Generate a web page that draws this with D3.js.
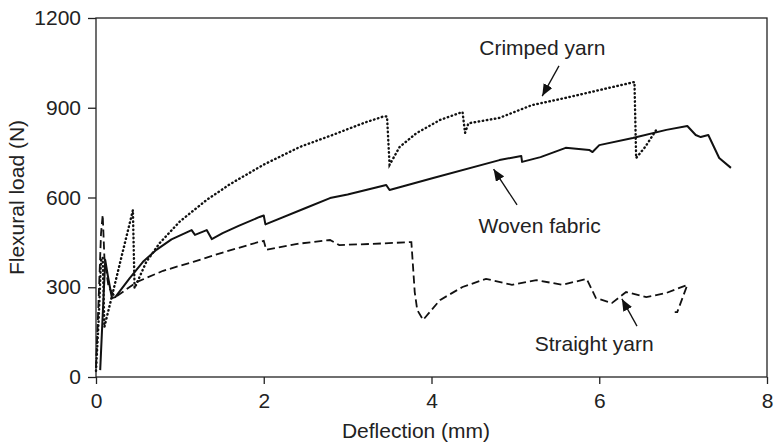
<!DOCTYPE html>
<html>
<head>
<meta charset="utf-8">
<script src="https://cdn.jsdelivr.net/npm/d3@7"></script>
<style>
  body { margin: 0; background: #fff; }
  svg { display: block; font-family: "Liberation Sans", Arial, Helvetica, sans-serif; }
  .axis text { font-size: 21px; fill: #222; }
  .axis line { stroke: #222; stroke-width: 1.3; }
  .lbl { font-size: 21px; fill: #222; }
</style>
</head>
<body>
<div id="chart"></div>
<script>
// --- data (deflection in mm, load in N) ---
const crimpedX = [0, 0.03, 0.06, 0.08, 0.1, 0.44, 0.46, 0.6, 0.76, 1.0, 1.32, 1.6, 2.0, 2.43, 2.82, 3.22, 3.44, 3.47, 3.5, 3.62, 3.82, 4.1, 4.37, 4.4, 4.44, 4.81, 5.2, 5.6, 6.0, 6.42, 6.44, 6.55, 6.68];
const crimpedY = [20, 180, 390, 400, 167, 558, 297, 385, 448, 520, 592, 645, 710, 769, 809, 852, 872, 870, 709, 769, 815, 859, 886, 816, 848, 866, 909, 933, 959, 986, 732, 770, 826];

const wovenX = [0.05, 0.11, 0.14, 0.19, 0.23, 0.4, 0.56, 0.72, 0.9, 1.14, 1.18, 1.32, 1.38, 1.51, 1.7, 1.95, 2.0, 2.02, 2.5, 2.79, 3.0, 3.46, 3.5, 4.02, 4.81, 5.07, 5.08, 5.3, 5.6, 5.88, 5.92, 6.0, 6.4, 6.8, 7.05, 7.15, 7.21, 7.3, 7.43, 7.57];
const wovenY = [23, 391, 340, 264, 267, 330, 385, 425, 460, 491, 475, 491, 461, 481, 505, 535, 540, 510, 565, 598, 610, 642, 625, 665, 725, 739, 719, 735, 766, 759, 752, 775, 799, 826, 839, 809, 802, 809, 732, 699];

const straightX = [0, 0.03, 0.06, 0.08, 0.1, 0.15, 0.23, 0.49, 0.8, 1.16, 1.5, 1.95, 2.0, 2.03, 2.4, 2.79, 2.9, 3.3, 3.76, 3.8, 3.83, 3.9, 4.1, 4.37, 4.65, 4.96, 5.25, 5.56, 5.85, 5.96, 6.15, 6.32, 6.56, 6.8, 7.05, 6.93, 6.9];
const straightY = [30, 250, 480, 542, 400, 300, 267, 318, 355, 385, 415, 452, 455, 425, 445, 458, 441, 445, 451, 284, 224, 191, 257, 301, 328, 308, 324, 308, 328, 264, 247, 284, 267, 281, 308, 217, 217];

const xTicks = [0, 2, 4, 6, 8];
const yTicks = [0, 300, 600, 900, 1200];

// annotation labels + arrows, in data units
const labels = ["Crimped yarn", "Woven fabric", "Straight yarn"];
const labelX = [4.57, 4.56, 5.23];
const labelY = [1076, 481, 87];
const arrowFrom = [[5.52, 1040], [5.02, 575], [6.45, 170]];
const arrowTo = [[5.32, 939], [4.74, 695], [6.27, 261]];

const W = 775, H = 448;
const margin = { top: 18, right: 8, bottom: 71, left: 96 };

const svg = d3.select("#chart").append("svg").attr("width", W).attr("height", H);

const x = d3.scaleLinear().domain([0, 8]).range([margin.left, W - margin.right]);
const y = d3.scaleLinear().domain([0, 1200]).range([H - margin.bottom, margin.top]);

// frame
svg.append("rect")
  .attr("x", x(0)).attr("y", y(1200))
  .attr("width", x(8) - x(0)).attr("height", y(0) - y(1200))
  .attr("fill", "none").attr("stroke", "#222").attr("stroke-width", 1.3);

const gx = svg.append("g").attr("class", "axis")
  .attr("transform", `translate(0,${y(0)})`)
  .call(d3.axisBottom(x).tickValues(xTicks).tickFormat(d3.format("d"))
    .tickSize(7).tickSizeOuter(0).tickPadding(9));
const gy = svg.append("g").attr("class", "axis")
  .attr("transform", `translate(${x(0)},0)`)
  .call(d3.axisLeft(y).tickValues(yTicks).tickFormat(d3.format("d"))
    .tickSize(8).tickSizeOuter(0).tickPadding(7));
gx.select(".domain").remove();
gy.select(".domain").remove();
gx.selectAll("text").attr("font-family", null).attr("font-size", null);
gy.selectAll("text").attr("font-family", null).attr("font-size", null);

// axis titles
svg.append("text").attr("class", "lbl")
  .attr("x", 416).attr("y", 438)
  .attr("text-anchor", "middle").text("Deflection (mm)");
svg.append("text").attr("class", "lbl")
  .attr("transform", `translate(24,${(y(0) + y(1200)) / 2}) rotate(-90)`)
  .attr("text-anchor", "middle").text("Flexural load (N)");

// curves
const line = d3.line().x(d => x(d[0])).y(d => y(d[1]));
const zip = (xs, ys) => xs.map((v, i) => [v, ys[i]]);

svg.append("path").datum(zip(straightX, straightY))
  .attr("d", line).attr("fill", "none").attr("stroke", "#111")
  .attr("stroke-width", 1.8).attr("stroke-dasharray", "8,4");
svg.append("path").datum(zip(crimpedX, crimpedY))
  .attr("d", line).attr("fill", "none").attr("stroke", "#111")
  .attr("stroke-width", 2.4).attr("stroke-dasharray", "0.5,3.6").attr("stroke-linecap", "round");
svg.append("path").datum(zip(wovenX, wovenY))
  .attr("d", line).attr("fill", "none").attr("stroke", "#111")
  .attr("stroke-width", 2).attr("stroke-linejoin", "round");

// arrows
svg.append("defs").append("marker")
  .attr("id", "head").attr("viewBox", "0 0 12 10")
  .attr("refX", 12).attr("refY", 5)
  .attr("markerWidth", 12).attr("markerHeight", 10)
  .attr("markerUnits", "userSpaceOnUse").attr("orient", "auto")
  .append("path").attr("d", "M0,0 L12,5 L0,10 Z").attr("fill", "#111");

svg.selectAll("line.arrow").data(arrowFrom).join("line")
  .attr("class", "arrow")
  .attr("x1", d => x(d[0])).attr("y1", d => y(d[1]))
  .attr("x2", (d, i) => x(arrowTo[i][0])).attr("y2", (d, i) => y(arrowTo[i][1]))
  .attr("stroke", "#111").attr("stroke-width", 1.3)
  .attr("marker-end", "url(#head)");

svg.selectAll("text.ann").data(labels).join("text")
  .attr("class", "lbl ann")
  .attr("x", (d, i) => x(labelX[i])).attr("y", (d, i) => y(labelY[i]))
  .text(d => d);
</script>
</body>
</html>
